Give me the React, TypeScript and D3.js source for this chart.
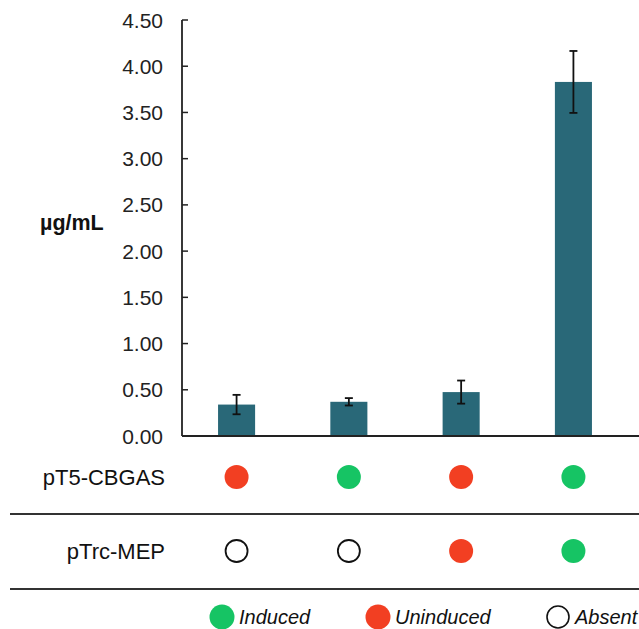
import React, {useEffect, useRef} from "react";
import * as d3 from "d3";

const samples = ["S1", "S2", "S3", "S4"];
const means = [0.34, 0.37, 0.475, 3.83];
const errors = [0.105, 0.04, 0.125, 0.335];
const yTicks = [0, 0.5, 1, 1.5, 2, 2.5, 3, 3.5, 4, 4.5];

const rowLabels = ["pT5-CBGAS", "pTrc-MEP"];
const cbgasState = ["U", "I", "U", "I"];
const mepState = ["A", "A", "U", "I"];

const legendKeys = ["I", "U", "A"];
const legendNames = ["Induced", "Uninduced", "Absent"];

const GREEN = "#16c464";
const RED = "#f23f22";
const BAR = "#296878";

const App = () => {
    const ref = useRef<SVGSVGElement>(null);
    const width = 639;
    const height = 629;

    useEffect(() => {
        const svg = d3.select(ref.current);
        svg.selectAll("*").remove();

        const x = d3.scaleBand().domain(samples).range([181, 629]).paddingInner(0.67).paddingOuter(0.33);
        const y = d3.scaleLinear().domain([0, 4.5]).range([436, 20]);
        const font = "'Liberation Sans', Arial, sans-serif";

        // y axis
        const yAxis = svg.append("g").attr("transform", "translate(182,0)");
        yAxis.append("line").attr("x1", 0).attr("x2", 0).attr("y1", y(4.5)).attr("y2", y(0))
            .attr("stroke", "#222").attr("stroke-width", 1.8);
        yAxis.selectAll(".tick").data(yTicks).join("line")
            .attr("x1", 0).attr("x2", 6).attr("y1", d => y(d)).attr("y2", d => y(d))
            .attr("stroke", "#222").attr("stroke-width", 1.5);
        yAxis.selectAll("text").data(yTicks).join("text")
            .attr("x", -19).attr("y", d => y(d)).attr("dy", "0.36em")
            .attr("text-anchor", "end").attr("font-family", font).attr("font-size", 21)
            .attr("fill", "#222").text(d => d3.format(".2f")(d));

        svg.append("text").attr("x", 40).attr("y", 230)
            .attr("font-family", font).attr("font-size", 21.5).attr("font-weight", "bold")
            .attr("fill", "#111").text("µg/mL");

        // bars
        svg.append("g").selectAll("rect").data(samples).join("rect")
            .attr("x", d => x(d)!).attr("width", x.bandwidth())
            .attr("y", (d, i) => y(means[i])).attr("height", (d, i) => y(0) - y(means[i]))
            .attr("fill", BAR);

        // error bars
        const eb = svg.append("g").attr("stroke", "#111").attr("stroke-width", 1.8);
        samples.forEach((s, i) => {
            const cx = x(s)! + x.bandwidth() / 2;
            const top = y(means[i] + errors[i]);
            const bot = y(means[i] - errors[i]);
            eb.append("line").attr("x1", cx).attr("x2", cx).attr("y1", top).attr("y2", bot);
            eb.append("line").attr("x1", cx - 4).attr("x2", cx + 4).attr("y1", top).attr("y2", top);
            eb.append("line").attr("x1", cx - 4).attr("x2", cx + 4).attr("y1", bot).attr("y2", bot);
        });

        // x axis
        svg.append("line").attr("x1", 182).attr("x2", width).attr("y1", y(0)).attr("y2", y(0))
            .attr("stroke", "#222").attr("stroke-width", 1.8);

        // table
        const rowY = [477, 551];
        const states = [cbgasState, mepState];
        rowLabels.forEach((lab, r) => {
            svg.append("text").attr("x", 165).attr("y", rowY[r]).attr("dy", "0.36em")
                .attr("text-anchor", "end").attr("font-family", font).attr("font-size", 22)
                .attr("fill", "#111").text(lab);
            svg.append("g").selectAll("circle").data(samples).join("circle")
                .attr("cx", d => x(d)! + x.bandwidth() / 2).attr("cy", rowY[r])
                .attr("r", (d, i) => states[r][i] === "A" ? 11 : 12)
                .attr("fill", (d, i) => states[r][i] === "I" ? GREEN : states[r][i] === "U" ? RED : "none")
                .attr("stroke", (d, i) => states[r][i] === "A" ? "#111" : "none")
                .attr("stroke-width", 1.8);
        });
        [514, 589].forEach(ly => {
            svg.append("line").attr("x1", 10).attr("x2", width).attr("y1", ly).attr("y2", ly)
                .attr("stroke", "#333").attr("stroke-width", 2);
        });

        // legend
        const legX = [222, 378, 558];
        legendKeys.forEach((k, i) => {
            svg.append("circle").attr("cx", legX[i]).attr("cy", 617).attr("r", k === "A" ? 11 : 12.5)
                .attr("fill", k === "I" ? GREEN : k === "U" ? RED : "none")
                .attr("stroke", k === "A" ? "#111" : "none").attr("stroke-width", 1.6);
            svg.append("text").attr("x", legX[i] + 17).attr("y", 617).attr("dy", "0.36em")
                .attr("font-family", font).attr("font-size", 20).attr("font-style", "italic")
                .attr("fill", "#111").text(legendNames[i]);
        });
    }, []);

    return (
        <div style={{position: "absolute", left: 0, top: 0}}>
            <svg width={width} height={height} ref={ref} style={{display: "block", background: "#fff"}}/>
        </div>
    );
};

export default App;
